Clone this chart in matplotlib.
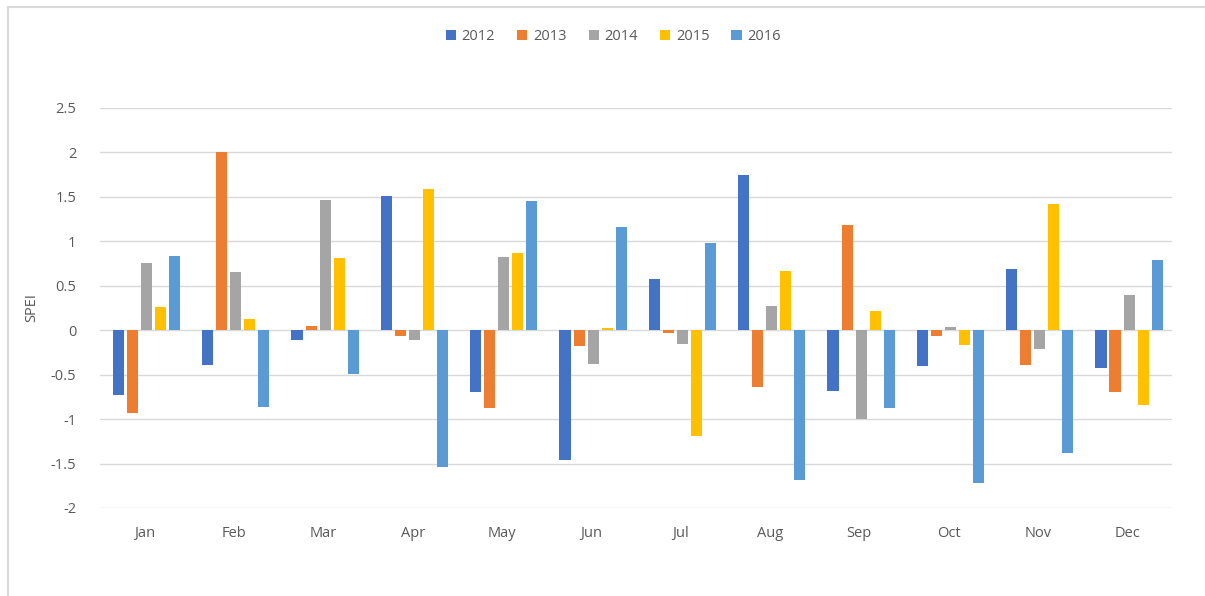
import numpy as np
import matplotlib
matplotlib.use("Agg")
import matplotlib.pyplot as plt
from matplotlib.lines import Line2D

months = ["Jan", "Feb", "Mar", "Apr", "May", "Jun", "Jul", "Aug", "Sep", "Oct", "Nov", "Dec"]
years = ["2012", "2013", "2014", "2015", "2016"]

spei_2012 = [-0.73, -0.39, -0.11, 1.51, -0.70, -1.46, 0.58, 1.75, -0.68, -0.40, 0.69, -0.43]
spei_2013 = [-0.93, 2.00, 0.05, -0.07, -0.87, -0.18, -0.03, -0.64, 1.18, -0.06, -0.39, -0.69]
spei_2014 = [0.76, 0.65, 1.47, -0.11, 0.82, -0.38, -0.15, 0.27, -1.00, 0.04, -0.21, 0.40]
spei_2015 = [0.26, 0.13, 0.81, 1.59, 0.87, 0.03, -1.19, 0.67, 0.22, -0.17, 1.42, -0.84]
spei_2016 = [0.83, -0.86, -0.49, -1.54, 1.45, 1.16, 0.98, -1.68, -0.87, -1.72, -1.38, 0.79]

series = [spei_2012, spei_2013, spei_2014, spei_2015, spei_2016]
colors = ["#4472C4", "#ED7D31", "#A5A5A5", "#FFC000", "#5B9BD5"]

txt = "#595959"
plt.rcParams["font.family"] = ["Open Sans", "DejaVu Sans"]

fig = plt.figure(figsize=(12.05, 5.96), dpi=100)
ax = fig.add_axes([0.083, 0.1477, 0.8896, 0.6711])

x = np.arange(len(months))
step = 0.157
width = 0.125
for i, (vals, c, yr) in enumerate(zip(series, colors, years)):
    ax.bar(x + (i - 2) * step + 0.02, vals, width=width, color=c, label=yr, zorder=3)

ax.set_xlim(-0.5, len(months) - 0.5)
ax.set_ylim(-2, 2.5)
ax.set_yticks(np.arange(-2, 2.51, 0.5))
ax.set_yticklabels(["-2", "-1.5", "-1", "-0.5", "0", "0.5", "1", "1.5", "2", "2.5"])
ax.set_xticks(x)
ax.set_xticklabels(months)
ax.tick_params(length=0, labelsize=10.5, colors=txt)
ax.tick_params(axis="x", pad=13)
ax.tick_params(axis="y", pad=17)
ax.grid(axis="y", color="#D9D9D9", linewidth=1, zorder=0)
for s in ax.spines.values():
    s.set_visible(False)
ax.set_ylabel("SPEI", color=txt, fontsize=10.5, labelpad=8)

ax.legend(loc="center", bbox_to_anchor=(0.509, 0.938), bbox_transform=fig.transFigure,
          ncol=5, frameon=False, fontsize=10.5, labelcolor=txt, handlelength=0.7,
          handleheight=0.7, handletextpad=0.4, columnspacing=1.5)

# chart frame (left and top edges)
fig.add_artist(Line2D([8 / 1205, 8 / 1205], [0, 1 - 7 / 596], transform=fig.transFigure,
                      color="#D9D9D9", linewidth=1.5))
fig.add_artist(Line2D([8 / 1205, 1], [1 - 7 / 596, 1 - 7 / 596], transform=fig.transFigure,
                      color="#D9D9D9", linewidth=1.5))

fig.savefig("out.png", dpi=100)
